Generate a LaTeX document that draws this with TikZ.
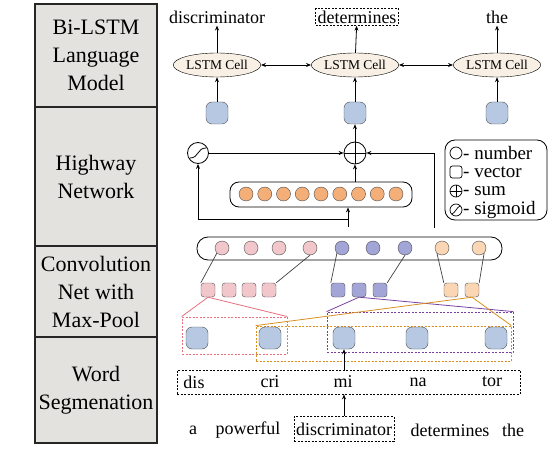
\documentclass[tikz,border=0pt]{standalone}
\usepackage{fontspec}
\setmainfont{Liberation Serif}
\usetikzlibrary{shapes.geometric,arrows.meta,positioning,calc}
\definecolor{panel}{HTML}{E4E2DE}
\definecolor{cellfill}{HTML}{F8F0E4}
\definecolor{vecblue}{HTML}{B7C9E2}
\definecolor{orangefill}{HTML}{F4AE78}
\definecolor{pinkfill}{HTML}{F2C7CB}
\definecolor{purplefill}{HTML}{A3A5D6}
\definecolor{peachfill}{HTML}{FAD6B4}
\definecolor{pinkline}{HTML}{E8707E}
\definecolor{purpleline}{HTML}{7B3FA0}
\definecolor{orangeline}{HTML}{D9901E}
\tikzset{
	layer/.style={draw=black!85,line width=1.5pt,fill=panel,align=center,inner sep=0pt,
		minimum width=122pt,font=\fontsize{22}{28}\selectfont},
	cell/.style={ellipse,draw,fill=cellfill,minimum width=70pt,minimum height=24pt,inner sep=0pt,
		font=\fontsize{13.5}{14}\selectfont},
	vec/.style={rounded corners=6pt,draw=black!70,fill=vecblue,minimum size=22pt,inner sep=0pt},
	num/.style={circle,draw=black!70,minimum size=14pt,inner sep=0pt},
	pool/.style={rounded corners=3pt,draw=black!70,minimum size=14pt,inner sep=0pt},
	arr/.style={-{Stealth[length=5pt,width=4pt]},line width=0.8pt},
	dbl/.style={{Stealth[length=5pt,width=4pt]}-{Stealth[length=5pt,width=4pt]},line width=0.8pt},
	link/.style={draw=black!75,line width=0.7pt},
	word/.style={font=\fontsize{18}{18}\selectfont,inner sep=2pt},
	dashbox/.style={draw,dash pattern=on 2pt off 1.5pt,line width=0.8pt},
	key/.style={font=\fontsize{19}{19}\selectfont,anchor=west,inner sep=0pt}
}
\begin{document}
\begin{tikzpicture}[x=1pt,y=-1pt]
\useasboundingbox (0,0) rectangle (550,452);
% left column
\node[layer,minimum height=103pt] (lm) at (96,55.5) {Bi-LSTM\\Language\\Model};
\node[layer,minimum height=139pt] (hw) at (96,176.5) {Highway\\Network};
\node[layer,minimum height=91pt] (cn) at (96,291.5) {Convolution\\Net with\\Max-Pool};
\node[layer,minimum height=106pt] (ws) at (96,390) {Word\\Segmenation};
% language model
\node[word] (w1) at (217,17) {discriminator};
\node[word,dashbox] (w2) at (357,17) {determines};
\node[word] (w3) at (497,17) {the};
\node[cell] (c1) at (217,65) {LSTM Cell};
\node[cell] (c2) at (355,65) {LSTM Cell};
\node[cell] (c3) at (497,65) {LSTM Cell};
\node[vec] (v1) at (217,113) {};
\node[vec] (v2) at (355,113) {};
\node[vec] (v3) at (497,113) {};
\path[arr]
(c1) edge (w1) (c2) edge (w2) (c3) edge (w3)
(v1) edge (c1) (v2) edge (c2) (v3) edge (c3);
\draw[dbl] (c1) -- (c2);
\draw[dbl] (c2) -- (c3);
% highway
\node[circle,draw,line width=0.8pt,minimum size=21pt,inner sep=0pt,path picture={
	\draw[line width=0.8pt] ($(path picture bounding box.center)+(-8,5)$) .. controls +(9,0) and +(-9,0) .. ($(path picture bounding box.center)+(8,-5)$);}] (sig) at (198,153) {};
\node[circle,draw,line width=0.8pt,minimum size=22pt,inner sep=0pt,path picture={
	\draw[line width=0.8pt] (path picture bounding box.west) -- (path picture bounding box.east)
	(path picture bounding box.north) -- (path picture bounding box.south);}] (plus) at (355,153) {};
\node[draw,line width=0.8pt,rounded corners=9pt,minimum width=182pt,minimum height=25pt] (hbox) at (321,194.5) {};
\foreach \i in {0,...,8}
	\node[num,fill=orangefill] (h\i) at ({246+18.75*\i},194) {};
\coordinate (branch) at (348,219);
\coordinate (split) at (348,227);
\coordinate (gate) at (434,228);
\draw[arr] (sig) -- (plus);
\draw[arr] (plus) -- (v2);
\draw[arr] (hbox.north -| plus) -- (plus.south);
\draw[arr] (split) -- (hbox.south -| split);
\draw[arr] (branch) -| (sig.south);
\draw[arr] (gate) |- (plus.east);
% legend
\node[draw,line width=0.8pt,rounded corners=10pt,minimum width=102pt,minimum height=80pt] (legend) at (496,180) {};
\node[circle,draw,line width=0.7pt,minimum size=12pt,inner sep=0pt] (k1) at (456,153) {};
\node[draw,line width=0.7pt,rounded corners=2.5pt,minimum size=12pt,inner sep=0pt] (k2) at (456,172) {};
\node[circle,draw,line width=0.7pt,minimum size=12pt,inner sep=0pt,path picture={
	\draw (path picture bounding box.west) -- (path picture bounding box.east)
	(path picture bounding box.north) -- (path picture bounding box.south);}] (k3) at (456,191) {};
\node[circle,draw,line width=0.7pt,minimum size=12pt,inner sep=0pt,path picture={
	\draw ($(path picture bounding box.center)+(-4,4)$) .. controls +(3,-1) and +(-3,1) .. ($(path picture bounding box.center)+(4,-4)$);}] (k4) at (456,210) {};
\node[key] at (463,153) {- number};
\node[key] at (463,172) {- vector};
\node[key] at (463,191) {- sum};
\node[key] at (463,210) {- sigmoid};
% convolution with max-pool
\node[draw,line width=0.8pt,rounded corners=11pt,minimum width=305pt,minimum height=23pt] (cbox) at (349.5,248.5) {};
\foreach \x [count=\i] in {222,251,279,310}
	\node[num,fill=pinkfill] (p\i) at (\x,248) {};
\foreach \x [count=\i] in {342,373,405}
	\node[num,fill=purplefill] (u\i) at (\x,248) {};
\foreach \x [count=\i] in {442,479}
	\node[num,fill=peachfill] (e\i) at (\x,248) {};
\foreach \x [count=\i] in {208,229,249,269}
	\node[pool,fill=pinkfill] (q\i) at (\x,290) {};
\foreach \x [count=\i] in {338,359,380}
	\node[pool,fill=purplefill] (r\i) at (\x,290) {};
\foreach \x [count=\i] in {451,472}
	\node[pool,fill=peachfill] (s\i) at (\x,290) {};
\path[link]
(p1.south west) edge (q1.north west)
(p4.south) edge (q4.north east)
(u1.south west) edge (r1.north west)
(u3.south) edge (r3.north east)
(e1.south west) edge (s1.north west)
(e2.south east) edge (s2.north east);
% windows over the subwords
\node[dashbox,draw=pinkline,minimum width=105pt,minimum height=37pt] (pwin) at (234.5,335.5) {};
\node[dashbox,draw=purpleline,minimum width=186pt,minimum height=40pt] (uwin) at (420,332) {};
\node[dashbox,draw=orangeline,minimum width=255pt,minimum height=35pt] (ewin) at (383.5,343.5) {};
\draw[pinkline,line width=0.8pt] (pwin.north west) -- (q1.south) -- (pwin.north east);
\draw[purpleline,line width=0.8pt] (uwin.north west) -- (r2.south) -- (uwin.north east);
\draw[orangeline,line width=0.8pt] (ewin.north west) -- (s2.south) -- (ewin.north east);
\foreach \x [count=\i] in {197,270,344,417,496}
	\node[vec] (b\i) at (\x,338) {};
% word segmentation
\node[dashbox,minimum width=343pt,minimum height=24pt] (sub) at (348.5,382) {};
\foreach \x/\t in {194/dis,270/cri,343/mi,418/na,492/tor}
	\node[word] at (\x,382) {\t};
\draw[arr] (sub.north -| b3) -- (b3.south);
\node[word] (a) at (193,430) {a};
\node[word] (pw) at (248,430) {powerful};
\node[word,dashbox,minimum height=25pt] (disc) at (344,429) {discriminator};
\node[word] (det) at (450,430) {determines};
\node[word] (th) at (513,430) {the};
\draw[arr] (disc.north) -- (sub.south -| disc);
\end{tikzpicture}
\end{document}
